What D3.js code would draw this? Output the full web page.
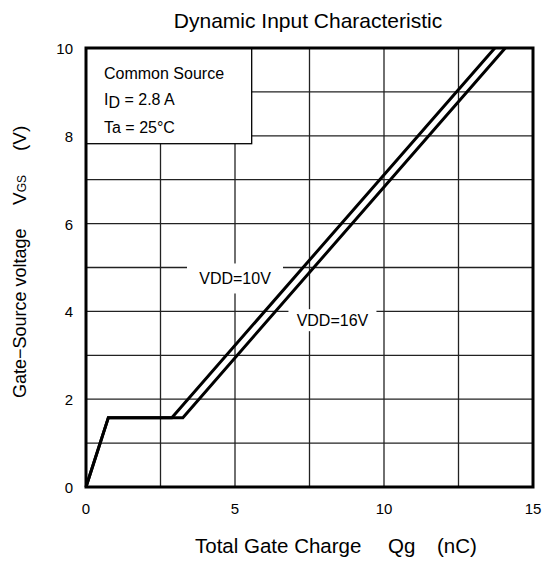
<!DOCTYPE html>
<html>
<head>
<meta charset="utf-8">
<script src="https://cdn.jsdelivr.net/npm/d3@7"></script>
<style>
  body { margin: 0; background: #fff; }
  text { font-family: Arial, "Liberation Sans", sans-serif; fill: #000; }
</style>
</head>
<body>
<div id="chart"></div>
<script>
const xTicks = [0, 5, 10, 15];
const yTicks = [0, 2, 4, 6, 8, 10];
const xGrid = [2.5, 5, 7.5, 10, 12.5];
const yGrid = [1, 2, 3, 4, 5, 6, 7, 8, 9];

const vdd10 = [[0, 0], [0.75, 1.58], [2.88, 1.58], [13.72, 10]];
const vdd16 = [[0, 0], [0.75, 1.58], [3.25, 1.58], [14.07, 10]];

const conditions = ["Common Source", "= 2.8 A", "Ta = 25°C"];

const W = 544, H = 565;
const margin = { top: 48, right: 11, bottom: 78, left: 86 };
const width = W - margin.left - margin.right;
const height = H - margin.top - margin.bottom;

const svg = d3.select("#chart").append("svg")
  .attr("width", W).attr("height", H);
const g = svg.append("g")
  .attr("transform", `translate(${margin.left},${margin.top})`);

const x = d3.scaleLinear().domain([0, 15]).range([0, width]);
const y = d3.scaleLinear().domain([0, 10]).range([height, 0]);

// grid
g.selectAll(".vgrid").data(xGrid).enter().append("line")
  .attr("x1", d => x(d)).attr("x2", d => x(d))
  .attr("y1", 0).attr("y2", height)
  .attr("stroke", "#222").attr("stroke-width", 1.3);
g.selectAll(".hgrid").data(yGrid).enter().append("line")
  .attr("x1", 0).attr("x2", width)
  .attr("y1", d => y(d)).attr("y2", d => y(d))
  .attr("stroke", "#222").attr("stroke-width", 1.3);

// condition box
g.append("rect")
  .attr("x", 0).attr("y", 0).attr("width", x(5.56)).attr("height", y(7.82))
  .attr("fill", "#fff").attr("stroke", "#000").attr("stroke-width", 1.3);
const cond = g.append("g").attr("transform", "translate(18,0)")
  .style("font-size", "16px");
cond.append("text").attr("y", 31).text(conditions[0]);
const id = cond.append("text").attr("y", 57);
id.append("tspan").text("I");
id.append("tspan").attr("dy", 3).text("D");
id.append("tspan").attr("dy", -3).text(" " + conditions[1]);
cond.append("text").attr("y", 85).text(conditions[2]);

// curve labels on white patches
function label(txt, cx, cy, bw, bh) {
  g.append("rect")
    .attr("x", cx - bw / 2).attr("y", cy - bh / 2)
    .attr("width", bw).attr("height", bh).attr("fill", "#fff");
  g.append("text").attr("x", cx).attr("y", cy + 6)
    .attr("text-anchor", "middle").style("font-size", "16px").text(txt);
}
label("VDD=10V", x(5), y(4.75), 96, 30);
label("VDD=16V", x(8.27), y(3.8), 88, 22);

// curves
const line = d3.line().x(d => x(d[0])).y(d => y(d[1]));
[vdd10, vdd16].forEach(s => {
  g.append("path").datum(s)
    .attr("fill", "none").attr("stroke", "#000")
    .attr("stroke-width", 3).attr("stroke-linejoin", "miter")
    .attr("d", line);
});

// frame
g.append("rect")
  .attr("x", 0).attr("y", 0).attr("width", width).attr("height", height)
  .attr("fill", "none").attr("stroke", "#000").attr("stroke-width", 3);

// tick labels
g.selectAll(".xt").data(xTicks).enter().append("text")
  .attr("x", d => x(d)).attr("y", height + 27)
  .attr("text-anchor", "middle").style("font-size", "15px").text(d => d);
g.selectAll(".yt").data(yTicks).enter().append("text")
  .attr("x", -13).attr("y", d => y(d) + 6)
  .attr("text-anchor", "end").style("font-size", "15px").text(d => d);

// titles
svg.append("text").attr("x", 308).attr("y", 28)
  .attr("text-anchor", "middle").style("font-size", "21px")
  .text("Dynamic Input Characteristic");

const xl = svg.append("text").attr("y", 553).style("font-size", "20.5px");
xl.append("tspan").attr("x", 195).text("Total Gate Charge");
xl.append("tspan").attr("x", 388).text("Qg");
xl.append("tspan").attr("x", 437).text("(nC)");

const yl = svg.append("text")
  .attr("transform", "translate(26,0) rotate(-90)")
  .style("font-size", "18px");
yl.append("tspan").attr("x", -398).text("Gate\u2212Source voltage");
yl.append("tspan").attr("x", -205).style("font-size", "19px").text("V");
yl.append("tspan").style("font-size", "12px").text("GS");
yl.append("tspan").attr("x", -151).style("font-size", "19px").text("(V)");
</script>
</body>
</html>
